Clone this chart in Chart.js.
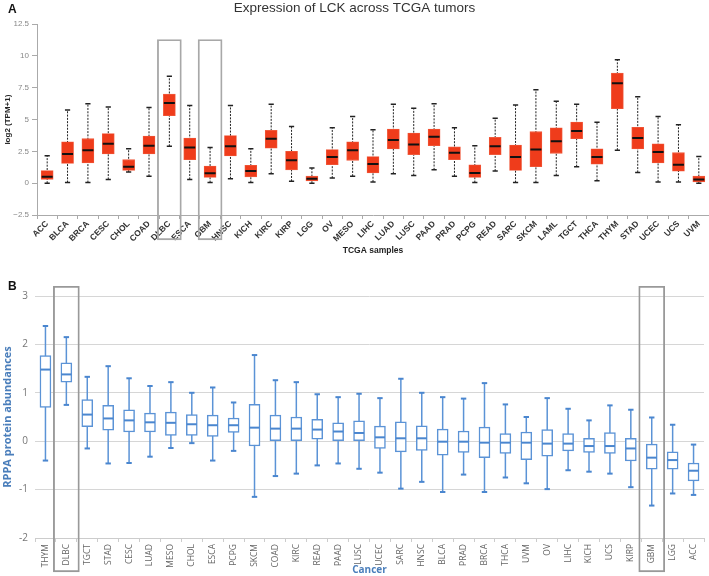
<!DOCTYPE html>
<html lang="en">
<head>
<meta charset="UTF-8">
<title>LCK expression across TCGA tumors / RPPA protein abundances</title>
<script src="https://cdn.jsdelivr.net/npm/chart.js"></script>
<style>
  body { margin: 0; width: 709px; height: 576px; background: #fff; position: relative; overflow: hidden; }
  canvas { position: absolute; left: 0; }
  .tag { position: absolute; left: 8px; font: bold 12px "Liberation Sans", Arial, sans-serif; color: #111; }
</style>
</head>
<body>
<canvas id="chartA" width="709" height="265" style="top:0"></canvas>
<canvas id="chartB" width="709" height="296" style="top:280px"></canvas>
<div class="tag" style="top:2px">A</div>
<div class="tag" style="top:279px">B</div>

<script>
  // Panel A: LCK expression, log2(TPM+1)
  const tcgaTypes = ['ACC','BLCA','BRCA','CESC','CHOL','COAD','DLBC','ESCA','GBM','HNSC','KICH','KIRC','KIRP','LGG','OV','MESO',
    'LIHC','LUAD','LUSC','PAAD','PRAD','PCPG','READ','SARC','SKCM','LAML','TGCT','THCA','THYM','STAD','UCEC','UCS','UVM'];
  const tpmMin    = [0, 0.05, 0.05, 0.3, 0.88, 0.55, 2.9, 0.3, 0.05, 0.35, 0.05, 0.75, 0.15, 0, 0.4, 0.55,
    0.1, 0.75, 0.6, 1.05, 0.55, 0.05, 0.95, 0.05, 0.05, 0.6, 1.3, 0.2, 2.6, 0.85, 0.1, 0.1, 0];
  const tpmQ1     = [0.3, 1.55, 1.6, 2.3, 1.0, 2.3, 5.3, 1.85, 0.45, 2.15, 0.5, 2.75, 1.05, 0.18, 1.45, 1.8,
    0.8, 2.7, 2.25, 2.95, 1.85, 0.45, 2.25, 1.0, 1.3, 2.35, 3.5, 1.5, 5.85, 2.7, 1.6, 0.95, 0.1];
  const tpmMedian = [0.5, 2.3, 2.6, 3.1, 1.3, 2.95, 6.3, 2.8, 0.78, 2.9, 0.95, 3.5, 1.8, 0.35, 2.05, 2.6,
    1.5, 3.4, 3.05, 3.65, 2.4, 0.8, 2.9, 2.05, 2.65, 3.3, 4.1, 2.05, 7.85, 3.55, 2.45, 1.45, 0.3];
  const tpmQ3     = [1.0, 3.25, 3.5, 3.9, 1.85, 3.7, 7.0, 3.55, 1.35, 3.75, 1.4, 4.15, 2.5, 0.55, 2.65, 3.25,
    2.1, 4.25, 3.95, 4.25, 2.85, 1.45, 3.6, 3.0, 4.05, 4.35, 4.8, 2.7, 8.65, 4.4, 3.1, 2.4, 0.55];
  const tpmMax    = [2.15, 5.75, 6.25, 6.0, 2.7, 5.95, 8.4, 6.1, 2.8, 6.1, 2.7, 6.2, 4.45, 1.2, 4.35, 5.25,
    4.2, 6.2, 5.9, 6.25, 4.35, 2.95, 5.1, 6.15, 7.35, 6.45, 6.2, 4.8, 9.7, 6.8, 5.25, 4.6, 2.1];
  const markedA = ['DLBC', 'GBM'];
  const markRangeA = [-4.45, 11.3];

  // Panel B: RPPA protein abundances
  const cancers = ['THYM','DLBC','TGCT','STAD','CESC','LUAD','MESO','CHOL','ESCA','PCPG','SKCM','COAD','KIRC','READ','PAAD','LUSC',
    'UCEC','SARC','HNSC','BLCA','PRAD','BRCA','THCA','UVM','OV','LIHC','KICH','UCS','KIRP','GBM','LGG','ACC'];
  const rppaMin    = [-0.4, 0.75, -0.15, -0.46, -0.45, -0.32, -0.14, -0.04, -0.4, -0.2, -1.15, -0.72, -0.67, -0.5, -0.46, -0.57,
    -0.65, -0.98, -0.84, -1.05, -0.69, -1.05, -0.75, -0.87, -0.99, -0.6, -0.63, -0.67, -0.95, -1.33, -1.08, -1.11];
  const rppaQ1     = [0.7, 1.22, 0.3, 0.23, 0.19, 0.19, 0.12, 0.12, 0.1, 0.18, -0.1, 0.0, 0.0, 0.04, 0.0, 0.0,
    -0.15, -0.22, -0.19, -0.29, -0.23, -0.34, -0.25, -0.38, -0.31, -0.2, -0.23, -0.25, -0.41, -0.58, -0.58, -0.82];
  const rppaMedian = [1.48, 1.38, 0.55, 0.47, 0.43, 0.39, 0.38, 0.35, 0.33, 0.33, 0.28, 0.26, 0.26, 0.24, 0.2, 0.17,
    0.08, 0.06, 0.06, -0.01, -0.01, -0.03, -0.03, -0.03, -0.05, -0.05, -0.1, -0.1, -0.15, -0.34, -0.39, -0.61];
  const rppaQ3     = [1.77, 1.62, 0.86, 0.74, 0.65, 0.58, 0.6, 0.55, 0.54, 0.48, 0.76, 0.54, 0.5, 0.45, 0.38, 0.42,
    0.31, 0.4, 0.32, 0.25, 0.21, 0.29, 0.16, 0.19, 0.24, 0.16, 0.06, 0.18, 0.06, -0.06, -0.22, -0.45];
  const rppaMax    = [2.38, 2.15, 1.33, 1.55, 1.3, 1.14, 1.22, 1.0, 1.11, 0.8, 1.78, 1.26, 1.22, 0.97, 0.91, 0.98,
    0.89, 1.29, 1.0, 0.91, 0.88, 1.2, 0.76, 0.5, 0.89, 0.67, 0.43, 0.74, 0.65, 0.49, 0.34, -0.07];
  const markedB = ['DLBC', 'GBM'];
  const markRangeB = [-2.7, 3.2];

  // box plot out of bar + line datasets (lower order is drawn on top)
  function boxDatasets(labels, mins, q1s, meds, q3s, maxs, look) {
    return [
      { type: 'line', order: 1, data: meds, showLine: false, pointStyle: 'line',
        pointRadius: look.boxWidth / 2 - 0.5, pointBorderWidth: look.medianWidth, pointBorderColor: look.median },
      { type: 'line', order: 2, showLine: false, pointStyle: 'line',
        data: labels.flatMap((l, i) => [{ x: l, y: mins[i] }, { x: l, y: maxs[i] }]),
        pointRadius: look.capRadius, pointBorderWidth: look.capWidth, pointBorderColor: look.cap },
      { type: 'bar', order: 3, grouped: false, barThickness: look.boxWidth,
        data: labels.map((l, i) => [q1s[i], q3s[i]]),
        backgroundColor: look.fill, borderColor: look.edge, borderWidth: look.edgeWidth, borderSkipped: false },
      { type: 'line', order: 4, fill: false, spanGaps: false, pointRadius: 0,
        data: labels.flatMap((l, i) => [{ x: l, y: mins[i] }, { x: l, y: maxs[i] }, { x: l, y: null }]),
        borderColor: look.whisker, borderWidth: look.whiskerWidth, borderDash: look.dash }
    ];
  }

  function markBoxes(labels, marked, range, width, color) {
    return { type: 'bar', order: 0, grouped: false, clip: false, barThickness: width,
      data: labels.map(l => marked.includes(l) ? range : null),
      backgroundColor: 'rgba(0,0,0,0)', borderColor: color, borderWidth: 1.2, borderSkipped: false };
  }

  // x axis: fixed height, no extra side padding for the rotated labels
  const fitX = h => s => { s.height = h; s.paddingLeft = 0; s.paddingRight = 0; };

  Chart.defaults.font.family = '"Liberation Sans", Arial, sans-serif';

  new Chart(document.getElementById('chartA'), {
    type: 'bar',
    data: {
      labels: tcgaTypes,
      datasets: [
        markBoxes(tcgaTypes, markedA, markRangeA, 24, '#a8a8a8'),
        ...boxDatasets(tcgaTypes, tpmMin, tpmQ1, tpmMedian, tpmQ3, tpmMax, {
          boxWidth: 12, fill: '#ef3c1b', edge: '#f05a3c', edgeWidth: 0.8,
          median: '#111', medianWidth: 2, cap: '#222', capRadius: 2.6, capWidth: 1.5,
          whisker: '#222', whiskerWidth: 1, dash: [2, 1.3]
        })
      ]
    },
    options: {
      responsive: false,
      animation: false,
      events: [],
      layout: { autoPadding: false, padding: { left: 0, right: 0, top: 0, bottom: 0 } },
      plugins: {
        legend: { display: false },
        tooltip: { enabled: false },
        title: {
          display: true, text: 'Expression of LCK across TCGA tumors', color: '#333',
          font: { size: 13.5, weight: 'normal' }, padding: { top: 0, bottom: 8 }
        }
      },
      scales: {
        x: {
          grid: { offset: true, drawOnChartArea: false, tickLength: 4, color: '#aaa' },
          border: { color: '#aaa' },
          ticks: { autoSkip: false, minRotation: 45, maxRotation: 45, padding: 0, color: '#333',
                   font: { size: 8.5, weight: 'bold' } },
          title: { display: true, text: 'TCGA samples', color: '#222',
                   font: { size: 8.5, weight: 'bold' }, padding: { top: 0, bottom: 9 } },
          afterFit: fitX(50)
        },
        y: {
          min: -2.5, max: 12.5,
          ticks: { stepSize: 2.5, color: '#888', font: { size: 8 }, padding: 3,
                   callback: v => String(v).replace('-', '\u2212') },
          grid: { drawOnChartArea: false, tickLength: 5, color: '#aaa' },
          border: { color: '#aaa' },
          title: { display: true, text: 'log2 (TPM+1)', color: '#222',
                   font: { size: 8, weight: 'bold' }, padding: { top: 3, bottom: 0 } },
          afterFit: s => { s.width = 37; }
        }
      }
    }
  });

  const openSans = '"Open Sans", "Noto Sans", sans-serif';

  new Chart(document.getElementById('chartB'), {
    type: 'bar',
    data: {
      labels: cancers,
      datasets: [
        markBoxes(cancers, markedB, markRangeB, 26, '#999'),
        ...boxDatasets(cancers, rppaMin, rppaQ1, rppaMedian, rppaQ3, rppaMax, {
          boxWidth: 11, fill: '#fff', edge: '#5b93d6', edgeWidth: 1.5,
          median: '#4a86cf', medianWidth: 2, cap: '#4a86cf', capRadius: 2.7, capWidth: 2,
          whisker: '#5b93d6', whiskerWidth: 1.5, dash: []
        })
      ]
    },
    options: {
      responsive: false,
      animation: false,
      events: [],
      layout: { autoPadding: false, padding: { left: 0, right: 5, top: 16, bottom: 0 } },
      plugins: { legend: { display: false }, tooltip: { enabled: false } },
      scales: {
        x: {
          grid: { offset: true, drawOnChartArea: false, tickLength: 4, color: '#ccc' },
          border: { color: '#ccc' },
          ticks: { autoSkip: false, minRotation: 90, maxRotation: 90, padding: 2, color: '#666',
                   font: { family: openSans, size: 8.5 } },
          title: { display: true, text: 'Cancer', color: '#4a7ebb',
                   font: { family: openSans, size: 10, weight: 'bold' }, padding: 0 },
          afterFit: fitX(38)
        },
        y: {
          min: -2, max: 3,
          ticks: { stepSize: 1, color: '#777', font: { family: openSans, size: 10 }, padding: 7 },
          grid: { color: '#d6d6d6', drawTicks: false },
          border: { display: false },
          title: { display: true, text: 'RPPA protein abundances', color: '#4a7ebb',
                   font: { family: openSans, size: 11, weight: 'bold' }, padding: { top: 1.5, bottom: 0 } },
          afterFit: s => { s.width = 35; }
        }
      }
    }
  });
</script>
</body>
</html>
